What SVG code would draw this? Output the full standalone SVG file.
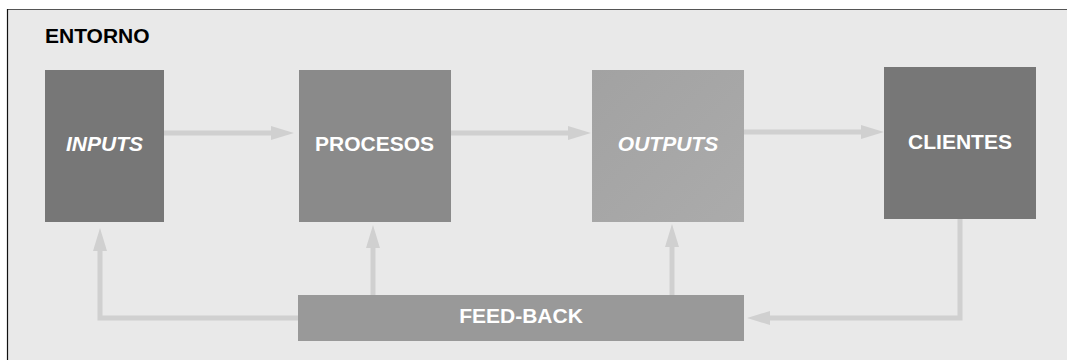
<svg xmlns="http://www.w3.org/2000/svg" width="1067" height="360" viewBox="0 0 1067 360">
  <style>
    .lbl { font-family: "Liberation Sans", Arial, Helvetica, sans-serif; font-weight: bold; font-size: 21px; fill: #ffffff; text-anchor: middle; }
    .it { font-style: italic; }
    .title { font-family: "Liberation Sans", Arial, Helvetica, sans-serif; font-weight: bold; font-size: 21px; fill: #000000; }
    .conn { fill: none; stroke: #d0d0d0; stroke-width: 5; stroke-linejoin: miter; }
  </style>
  <defs>
    <marker id="ah" viewBox="0 0 23 14" refX="2" refY="7" markerWidth="23" markerHeight="14" markerUnits="userSpaceOnUse" orient="auto">
      <path d="M0,0 L23,7 L0,14 z" fill="#d0d0d0"/>
    </marker>
    <linearGradient id="gOut" x1="0" y1="0" x2="1" y2="1">
      <stop offset="0" stop-color="#a2a2a2"/>
      <stop offset="1" stop-color="#ababab"/>
    </linearGradient>
  </defs>

  <g id="entorno">
    <rect x="7.5" y="9.5" width="1070" height="360" fill="#e9e9e9"/>
    <line x1="7" y1="9.5" x2="1067" y2="9.5" stroke="#555555" stroke-width="1"/>
    <line x1="7.5" y1="9" x2="7.5" y2="360" stroke="#111111" stroke-width="1.2"/>
    <text class="title" x="45" y="43">ENTORNO</text>
  </g>

  <g id="connectors">
    <path class="conn" d="M164,133 H273" marker-end="url(#ah)"/>
    <path class="conn" d="M451,133 H570" marker-end="url(#ah)"/>
    <path class="conn" d="M744,132 H863" marker-end="url(#ah)"/>
    <path class="conn" d="M298,318 H100 V249" marker-end="url(#ah)"/>
    <path class="conn" d="M373,295 V246" marker-end="url(#ah)"/>
    <path class="conn" d="M672,295 V245" marker-end="url(#ah)"/>
    <path class="conn" d="M960,219 V318 H768" marker-end="url(#ah)"/>
  </g>

  <g id="inputs">
    <rect x="45" y="70" width="119" height="152" fill="#777777"/>
    <text class="lbl it" x="104.5" y="150.5">INPUTS</text>
  </g>

  <g id="procesos">
    <rect x="299" y="70" width="152" height="152" fill="#8a8a8a"/>
    <text class="lbl" x="374.5" y="150.5">PROCESOS</text>
  </g>

  <g id="outputs">
    <rect x="592" y="70" width="152" height="152" fill="url(#gOut)"/>
    <text class="lbl it" x="668" y="150.5">OUTPUTS</text>
  </g>

  <g id="clientes">
    <rect x="884" y="67" width="152" height="152" fill="#777777"/>
    <text class="lbl" x="960" y="149">CLIENTES</text>
  </g>

  <g id="feedback">
    <rect x="298" y="295" width="446" height="46" fill="#999999"/>
    <text class="lbl" x="521" y="322.5">FEED-BACK</text>
  </g>
</svg>
